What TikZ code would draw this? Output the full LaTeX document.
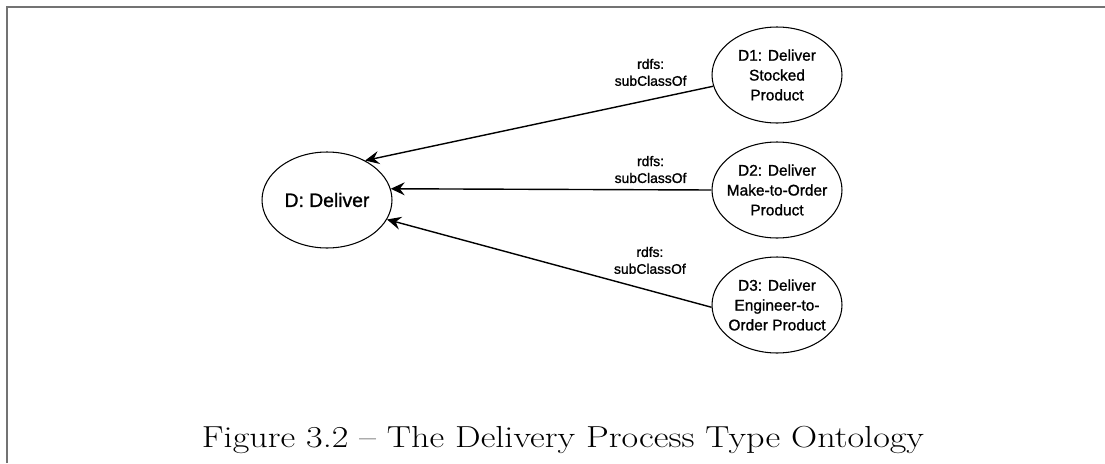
\documentclass[tikz,border=0pt]{standalone}
\usepackage{fontspec}
\newfontfamily\arialfont[FakeBold=1.2]{Liberation Sans}
\newfontfamily\capfont[FakeStretch=1.19, Ligatures=TeX]{Latin Modern Roman}
\usetikzlibrary{shapes.geometric,arrows.meta,positioning}

\tikzset{
  classnode/.style={draw, ellipse, line width=0.6pt, inner xsep=-0.2cm, inner ysep=0pt, minimum width=2.6cm, minimum height=1.92cm, align=center, font=\arialfont\fontsize{8.8}{11.3}\selectfont},
  subof/.style={-{Stealth[length=0.28cm, width=0.26cm, inset=0.1cm]}, line width=0.8pt},
  lbl/.style={align=center, anchor=south, inner sep=0pt, font=\arialfont\fontsize{7.9}{9.6}\selectfont}
}

\begin{document}
\begin{tikzpicture}[x=0.02cm, y=-0.02cm]
\useasboundingbox (0,0) rectangle (1105,463);
% Rahmen
\draw[line width=1.2pt, black!55] (7,463) |- (1105,7);

% Klassen
\node[classnode, font=\arialfont\fontsize{11}{13}\selectfont] (d) at (327,200) {D: Deliver};
\node[classnode] (d1) at (777,75) {D1: Deliver\\Stocked\\Product};
\node[classnode] (d2) at (777,190) {D2: Deliver\\Make-to-Order\\Product};
\node[classnode] (d3) at (777,305) {D3: Deliver\\Engineer-to-\\Order Product};

% Verbindungen
\draw[subof] (d1.190) -- node[lbl, pos=0.18, yshift=0.26cm] {rdfs:\\subClassOf} (d.46);
\draw[subof] (d2.west) -- node[lbl, pos=0.19, yshift=0.12cm] {rdfs:\\subClassOf} (d.10);
\draw[subof] (d3.182) -- node[lbl, pos=0.19, yshift=0.32cm] {rdfs:\\subClassOf} (d.-18);

% Beschriftung
\node[anchor=base, font=\capfont\fontsize{17.3}{20}\selectfont] (caption) at (563,447) {Figure 3.2 – The Delivery Process Type Ontology};
\end{tikzpicture}
\end{document}
